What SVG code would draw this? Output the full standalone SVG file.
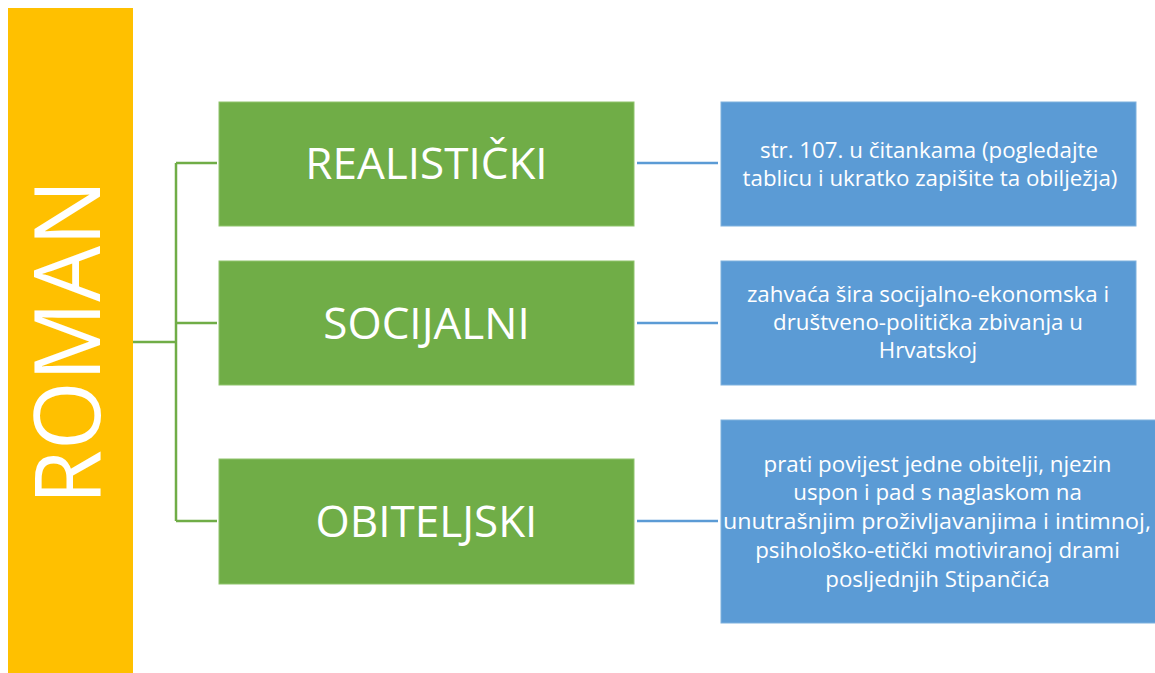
<svg xmlns="http://www.w3.org/2000/svg" width="1155" height="673" viewBox="0 0 1155 673">
<style>
.root{fill:#FFC000;}
.green{fill:#70AD47;stroke:#8fc46c;stroke-width:1;}
.blue{fill:#5B9BD5;stroke:#7fb1de;stroke-width:1;}
.gt{font-family:"Open Sans","Liberation Sans",sans-serif;font-size:44px;fill:#ffffff;text-anchor:middle;}
.bt{font-family:"Open Sans","Liberation Sans",sans-serif;font-size:22.3px;fill:#ffffff;text-anchor:middle;}
.rt{font-family:"Open Sans","Liberation Sans",sans-serif;font-size:92px;fill:#ffffff;text-anchor:middle;}
.gl{stroke:#70AD47;stroke-width:2.5;fill:none;}
.bl{stroke:#5B9BD5;stroke-width:2.5;fill:none;}
</style>
<rect width="1155" height="673" fill="#ffffff"/>
<g id="connectors">
<path class="gl" d="M133,342 H176 M176,163 V521 M176,163 H217 M176,323 H217 M176,521 H217"/>
<path class="bl" d="M637,163 H718 M637,323 H718 M637,521 H718"/>
</g>
<g id="roman">
<rect class="root" x="8" y="8" width="125" height="666"/>
<text class="rt" transform="translate(100,342) rotate(-90)" textLength="325" lengthAdjust="spacingAndGlyphs">ROMAN</text>
</g>
<g id="realisticki">
<rect class="green" x="219" y="102" width="415" height="124"/>
<text class="gt" x="426.5" y="179">REALISTIČKI</text>
</g>
<g id="socijalni">
<rect class="green" x="219" y="261" width="415" height="124"/>
<text class="gt" x="426.5" y="339">SOCIJALNI</text>
</g>
<g id="obiteljski">
<rect class="green" x="219" y="459" width="415" height="125"/>
<text class="gt" x="426.5" y="537">OBITELJSKI</text>
</g>
<g id="opis-realisticki">
<rect class="blue" x="721" y="102" width="415" height="124"/>
<text class="bt" x="929" y="158">str. 107. u čitankama (pogledajte</text>
<text class="bt" x="930" y="186">tablicu i ukratko zapišite ta obilježja)</text>
</g>
<g id="opis-socijalni">
<rect class="blue" x="721" y="261" width="415" height="124"/>
<text class="bt" x="928" y="302">zahvaća šira socijalno-ekonomska i</text>
<text class="bt" x="928" y="330">društveno-politička zbivanja u</text>
<text class="bt" x="928" y="358">Hrvatskoj</text>
</g>
<g id="opis-obiteljski">
<rect class="blue" x="721" y="420" width="440" height="203"/>
<text class="bt" x="937.5" y="472">prati povijest jedne obitelji, njezin</text>
<text class="bt" x="937.5" y="500">uspon i pad s naglaskom na</text>
<text class="bt" x="723" y="529" style="text-anchor:start" textLength="428" lengthAdjust="spacingAndGlyphs">unutrašnjim proživljavanjima i intimnoj,</text>
<text class="bt" x="937.5" y="558">psihološko-etički motiviranoj drami</text>
<text class="bt" x="937.5" y="587">posljednjih Stipančića</text>
</g>
</svg>
